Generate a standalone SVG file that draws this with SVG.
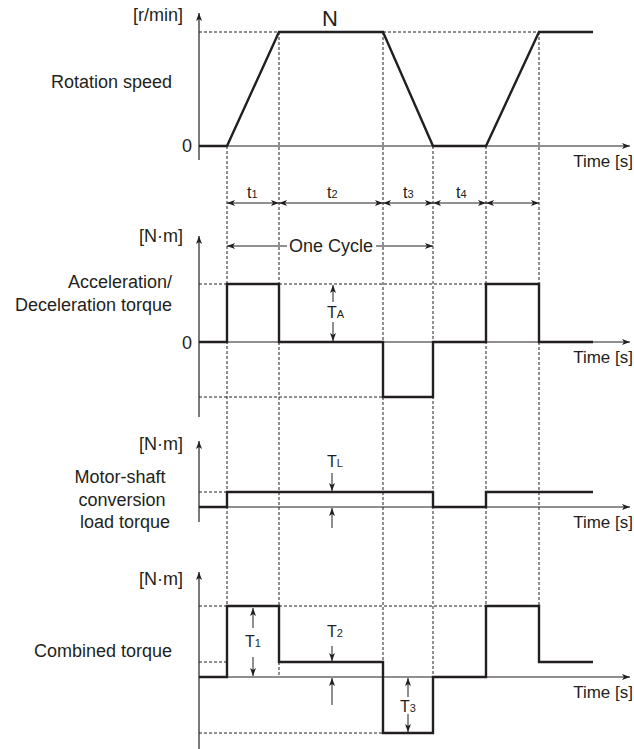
<svg xmlns="http://www.w3.org/2000/svg" width="634" height="749" viewBox="0 0 634 749">
<style>
text{font-family:"Liberation Sans",Arial,Helvetica,sans-serif;fill:#231f20}
.lbl{font-size:18px}
.tm{font-size:17px;text-anchor:end}
.sub{font-size:11px}
.wave{fill:none;stroke:#231f20;stroke-width:2.4;stroke-linejoin:miter}
.axis{fill:none;stroke:#231f20;stroke-width:1.2}
.dash{fill:none;stroke:#231f20;stroke-width:1;stroke-dasharray:3 2}
.dim{fill:none;stroke:#231f20;stroke-width:1}
</style>
<defs>
<marker id="ah" viewBox="0 0 8 6" refX="8" refY="3" markerWidth="8" markerHeight="6" orient="auto-start-reverse" markerUnits="userSpaceOnUse">
<path d="M0,0 L8,3 L0,6 L2,3 z" fill="#231f20"/>
</marker>
</defs>

<g id="guides">
<path class="dash" d="M227,146V606 M279,32V677 M383,32V733 M433,146V677 M486,146V606 M539,32V606"/>
<path class="dash" d="M199,32H279 M383,32H539 M199,284H227 M279,284H486 M199,397H383 M199,492H227 M199,606H227 M279,606H486 M199,662H227 M199,733H383"/>
</g>

<g id="chart-speed">
<line class="axis" x1="199" y1="160" x2="199" y2="13" marker-end="url(#ah)"/>
<line class="axis" x1="199" y1="146" x2="630" y2="146" marker-end="url(#ah)"/>
<polyline class="wave" points="199,146 227,146 279,32 383,32 433,146 486,146 539,32 593,32"/>
<text class="lbl" x="183" y="21" text-anchor="end">[r/min]</text>
<text class="lbl" x="172" y="88" text-anchor="end">Rotation speed</text>
<text class="lbl" x="192" y="152" text-anchor="end">0</text>
<text x="330" y="26" font-size="22" text-anchor="middle">N</text>
<text class="tm" x="633" y="167">Time [s]</text>
</g>

<g id="time-intervals">
<line class="dim" x1="227" y1="203" x2="279" y2="203" marker-start="url(#ah)" marker-end="url(#ah)"/>
<line class="dim" x1="279" y1="203" x2="383" y2="203" marker-start="url(#ah)" marker-end="url(#ah)"/>
<line class="dim" x1="383" y1="203" x2="433" y2="203" marker-start="url(#ah)" marker-end="url(#ah)"/>
<line class="dim" x1="433" y1="203" x2="486" y2="203" marker-start="url(#ah)" marker-end="url(#ah)"/>
<line class="dim" x1="486" y1="203" x2="539" y2="203" marker-start="url(#ah)" marker-end="url(#ah)"/>
<text x="247" y="198" font-size="16">t<tspan class="sub">1</tspan></text>
<text x="327" y="198" font-size="16">t<tspan class="sub">2</tspan></text>
<text x="403" y="198" font-size="16">t<tspan class="sub">3</tspan></text>
<text x="456" y="198" font-size="16">t<tspan class="sub">4</tspan></text>
<line class="dim" x1="287" y1="246" x2="227" y2="246" marker-end="url(#ah)"/>
<line class="dim" x1="376" y1="246" x2="433" y2="246" marker-end="url(#ah)"/>
<text class="lbl" x="331" y="252" text-anchor="middle">One Cycle</text>
</g>

<g id="chart-accel">
<line class="axis" x1="199" y1="417" x2="199" y2="236" marker-end="url(#ah)"/>
<line class="axis" x1="199" y1="342" x2="630" y2="342" marker-end="url(#ah)"/>
<polyline class="wave" points="199,342 227,342 227,284 279,284 279,342 383,342 383,397 433,397 433,342 486,342 486,284 539,284 539,342 593,342"/>
<text class="lbl" x="183" y="242" text-anchor="end">[N·m]</text>
<text class="lbl" x="172" y="288" text-anchor="end">Acceleration/</text>
<text class="lbl" x="172" y="311" text-anchor="end">Deceleration torque</text>
<text class="lbl" x="192" y="349" text-anchor="end">0</text>
<line class="dim" x1="333" y1="302" x2="333" y2="285" marker-end="url(#ah)"/>
<line class="dim" x1="333" y1="322" x2="333" y2="341" marker-end="url(#ah)"/>
<text x="327" y="318" font-size="16">T<tspan class="sub">A</tspan></text>
<text class="tm" x="633" y="363">Time [s]</text>
</g>

<g id="chart-load">
<line class="axis" x1="199" y1="522" x2="199" y2="441" marker-end="url(#ah)"/>
<line class="axis" x1="199" y1="507" x2="630" y2="507" marker-end="url(#ah)"/>
<polyline class="wave" points="199,507 227,507 227,492 433,492 433,507 486,507 486,492 593,492"/>
<text class="lbl" x="183" y="450" text-anchor="end">[N·m]</text>
<text class="lbl" x="120" y="483" text-anchor="middle">Motor-shaft</text>
<text class="lbl" x="122" y="506" text-anchor="middle">conversion</text>
<text class="lbl" x="125" y="528" text-anchor="middle">load torque</text>
<line class="dim" x1="332" y1="473" x2="332" y2="491" marker-end="url(#ah)"/>
<line class="dim" x1="332" y1="528" x2="332" y2="508" marker-end="url(#ah)"/>
<text x="327" y="467" font-size="16">T<tspan class="sub">L</tspan></text>
<text class="tm" x="633" y="528">Time [s]</text>
</g>

<g id="chart-combined">
<line class="axis" x1="199" y1="749" x2="199" y2="572" marker-end="url(#ah)"/>
<line class="axis" x1="199" y1="677" x2="630" y2="677" marker-end="url(#ah)"/>
<polyline class="wave" points="199,677 227,677 227,606 279,606 279,662 383,662 383,733 433,733 433,677 486,677 486,606 539,606 539,662 593,662"/>
<text class="lbl" x="183" y="585" text-anchor="end">[N·m]</text>
<text class="lbl" x="172" y="657" text-anchor="end">Combined torque</text>
<line class="dim" x1="253" y1="628" x2="253" y2="608" marker-end="url(#ah)"/>
<line class="dim" x1="253" y1="657" x2="253" y2="676" marker-end="url(#ah)"/>
<text x="245" y="647" font-size="16">T<tspan class="sub">1</tspan></text>
<line class="dim" x1="332" y1="646" x2="332" y2="661" marker-end="url(#ah)"/>
<line class="dim" x1="332" y1="705" x2="332" y2="678" marker-end="url(#ah)"/>
<text x="327" y="637" font-size="16">T<tspan class="sub">2</tspan></text>
<line class="dim" x1="408" y1="697" x2="408" y2="678" marker-end="url(#ah)"/>
<line class="dim" x1="408" y1="714" x2="408" y2="732" marker-end="url(#ah)"/>
<text x="400" y="712" font-size="16">T<tspan class="sub">3</tspan></text>
<text class="tm" x="633" y="698">Time [s]</text>
</g>
</svg>
